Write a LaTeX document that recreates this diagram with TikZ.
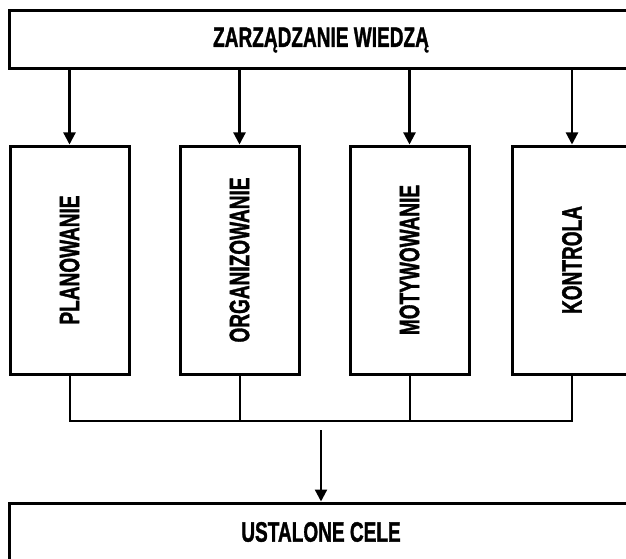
\documentclass[tikz,border=0pt]{standalone}
\usepackage{fontspec}
\setmainfont{Liberation Sans}[BoldFeatures={FakeBold=1.6}]
\usetikzlibrary{arrows.meta}
\newcommand{\condlbl}[1]{\scalebox{0.68}[1]{\fontsize{28}{30}\selectfont\bfseries #1}}
\tikzset{
  wide/.style={draw, line width=3pt, minimum width=624pt, minimum height=58pt, inner sep=0pt},
  stage/.style={draw, line width=3pt, minimum width=119pt, minimum height=228pt, inner sep=0pt},
  feed/.style={line width=2.2pt, -{Triangle[length=12pt,width=12pt]}},
  bus/.style={line width=2pt}
}
\begin{document}
\begin{tikzpicture}[x=1pt,y=-1pt]
\useasboundingbox (0,0) rectangle (626,559);
\clip (0,0) rectangle (626,559);
\fill[white] (0,0) rectangle (626,559);
\node[wide] (top) at (321,40) {\condlbl{ZARZĄDZANIE WIEDZĄ}};
\node[stage] (b1) at (69.5,260) {\rotatebox{90}{\condlbl{PLANOWANIE}}};
\node[stage] (b2) at (239.5,260) {\rotatebox{90}{\condlbl{ORGANIZOWANIE}}};
\node[stage] (b3) at (409.5,260) {\rotatebox{90}{\condlbl{MOTYWOWANIE}}};
\node[stage] (b4) at (572,260) {\rotatebox{90}{\condlbl{KONTROLA}}};
\node[wide] (goal) at (321,532) {\condlbl{USTALONE CELE}};
\foreach \b in {b1,b2,b3,b4}{
  \draw[feed] (top.south -| \b.north) -- (\b.north);
}
\coordinate (busy) at (0,421);
\draw[bus] (b1.south) -- (b1.south |- busy) -- (b4.south |- busy) -- (b4.south);
\draw[bus] (b2.south) -- (b2.south |- busy);
\draw[bus] (b3.south) -- (b3.south |- busy);
\coordinate (src) at (321,430);
\draw[feed] (src) -- (goal.north);
\end{tikzpicture}
\end{document}
